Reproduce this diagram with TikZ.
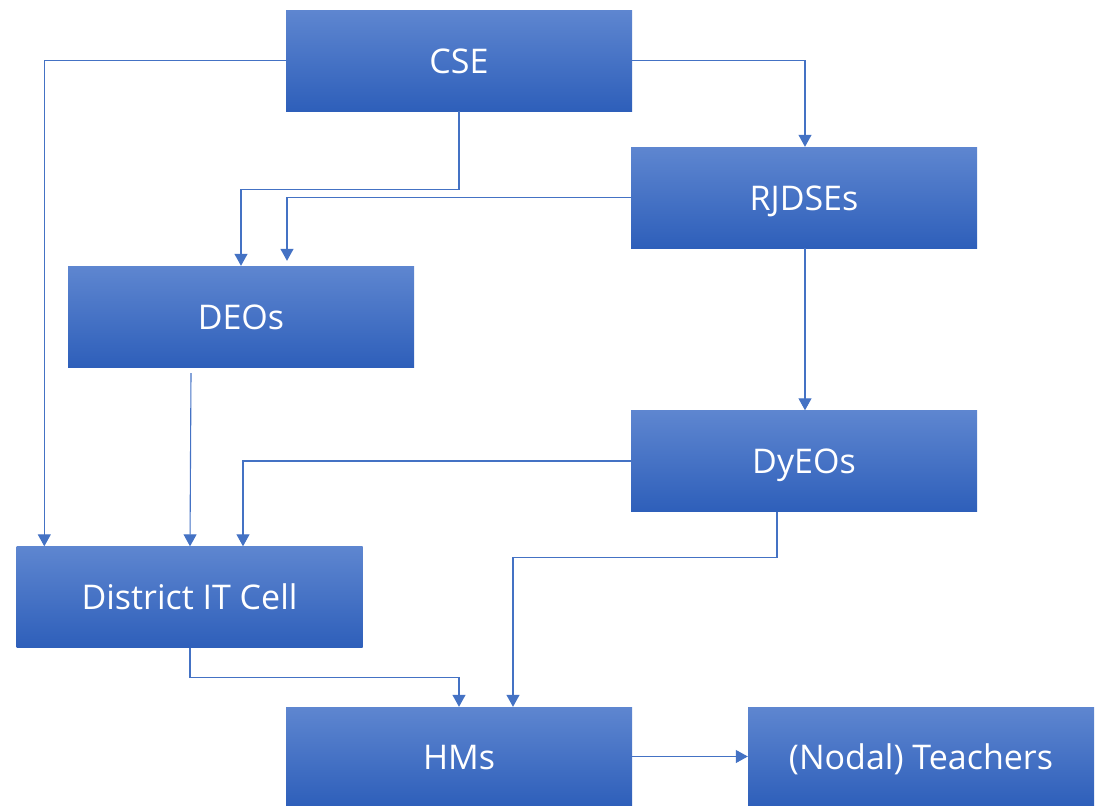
\documentclass[tikz,border=0pt]{standalone}
\usepackage{fontspec}
\setmainfont{Open Sans}
\usetikzlibrary{arrows.meta}
\definecolor{boxtop}{RGB}{94,134,208}
\definecolor{boxbot}{RGB}{46,95,186}
\definecolor{linecol}{RGB}{68,114,196}
\tikzset{
  orgbox/.style={rectangle, minimum width=346pt, minimum height=101pt, inner sep=0pt,
    top color=boxtop, bottom color=boxbot, text=white,
    text height=25pt, text depth=0pt,
    font=\fontsize{34}{40}\selectfont},
  conn/.style={draw=linecol, line width=1.1pt, -{Triangle[width=13pt,length=12pt]}}
}
\begin{document}
\begin{tikzpicture}[x=1pt,y=-1pt]
\useasboundingbox (0,0) rectangle (1096,806);
\node[orgbox] (cse) at (459,60.5) {CSE};
\node[orgbox] (rjd) at (804,197.5) {RJDSEs};
\node[orgbox] (deo) at (241,316.5) {DEOs};
\node[orgbox] (dye) at (804,461) {DyEOs};
\node[orgbox] (dit) at (189.5,597) {District IT Cell};
\node[orgbox, minimum height=99pt] (hms) at (459,756.5) {HMs};
\node[orgbox, minimum height=99pt] (tea) at (921,756.5) {(Nodal) Teachers};

\draw[conn] (cse.west) -| ([xshift=28]dit.north west);
\draw[conn] (cse.east) -| ([xshift=1]rjd.north);
\draw[conn] (cse.south) -- ++(0,78) -| (deo.north);
\draw[conn] (rjd.west) -| ([xshift=46,yshift=5]deo.north);
\draw[conn] ([xshift=1]rjd.south) -- ([xshift=1]dye.north);
\draw[conn] ([xshift=-50,yshift=-6]deo.south) -- ([xshift=0.5]dit.north);
\draw[conn] (dye.west) -| ([xshift=53.5]dit.north);
\draw[conn] ([xshift=-27]dye.south) -- ++(0,46) -| ([xshift=54]hms.north);
\draw[conn] ([xshift=0.5]dit.south) -- ++(0,30) -| (hms.north);
\draw[conn] (hms.east) -- (tea.west);
\end{tikzpicture}
\end{document}
